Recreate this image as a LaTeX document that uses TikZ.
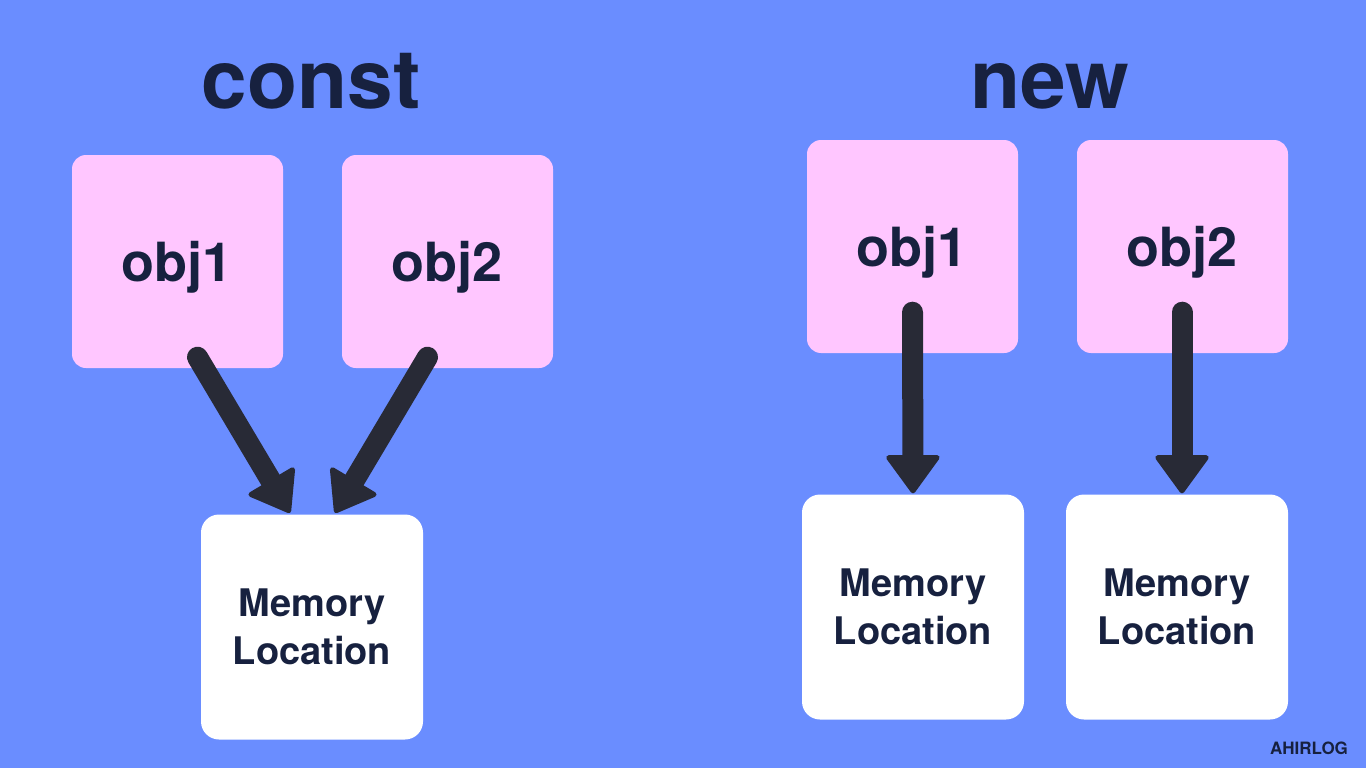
\documentclass[tikz,border=0pt]{standalone}
\usepackage{fontspec}
\setmainfont{TeX Gyre Heros}
\usepackage{tikz}
\usetikzlibrary{arrows.meta}
\definecolor{bgblue}{HTML}{6A8DFF}
\definecolor{objpink}{HTML}{FFC6FF}
\definecolor{ink}{HTML}{17213F}
\definecolor{ptrink}{HTML}{282A36}
\tikzstyle{title} = [text=ink,font=\fontsize{82}{90}\selectfont\bfseries]
\tikzstyle{objbox} = [fill=objpink,rounded corners=14pt,minimum width=211pt,minimum height=213pt,inner sep=0pt,text depth=0pt,text=ink,font=\fontsize{54}{60}\selectfont\bfseries,node distance=270pt]
\tikzstyle{membox} = [fill=white,rounded corners=18pt,minimum width=222pt,minimum height=225pt,inner sep=0pt,align=center,text=ink,font=\fontsize{38}{48}\selectfont\bfseries,node distance=264pt]
\tikzstyle{ptr} = [draw=ptrink,line width=21pt,line cap=round,-{Triangle[width=57pt,length=40pt,line width=5pt,round]}]

\begin{document}
\begin{tikzpicture}[x=1pt,y=-1pt]
\fill[bgblue] (0,0) rectangle (1366,768);
\useasboundingbox (0,0) rectangle (1366,768);

% const: both point at one location
\node[title,anchor=base] (tc) at (311,108) {const};
\node[objbox] (o1) at (177.5,261.5) {obj1};
\node[objbox,right of=o1] (o2) {obj2};
\node[membox] (m1) at (312,627) {Memory\\Location};

\draw[ptr] ([xshift=20pt,yshift=11pt]o1.south) -- ([xshift=-22pt,yshift=1.5pt]m1.north);
\draw[ptr] ([xshift=-20pt,yshift=11pt]o2.south) -- ([xshift=23pt,yshift=1.5pt]m1.north);

% new: each gets its own location
\node[title,anchor=base] (tn) at (1050,108) {new};
\node[objbox] (o3) at (912.5,246.5) {obj1};
\node[objbox,right of=o3] (o4) {obj2};
\node[membox] (m2) at (913,607) {Memory\\Location};
\node[membox,right of=m2] (m3) {Memory\\Location};

\draw[ptr] ([yshift=41pt]o3.south) -- ([yshift=1pt]m2.north);
\draw[ptr] ([yshift=41pt,xshift=-0.5pt]o4.south) -- ([xshift=5pt,yshift=1pt]m3.north);

\node[text=ink,font=\fontsize{17}{20}\selectfont\bfseries] (sig) at (1309,748) {AHIRLOG};
\end{tikzpicture}
\end{document}
